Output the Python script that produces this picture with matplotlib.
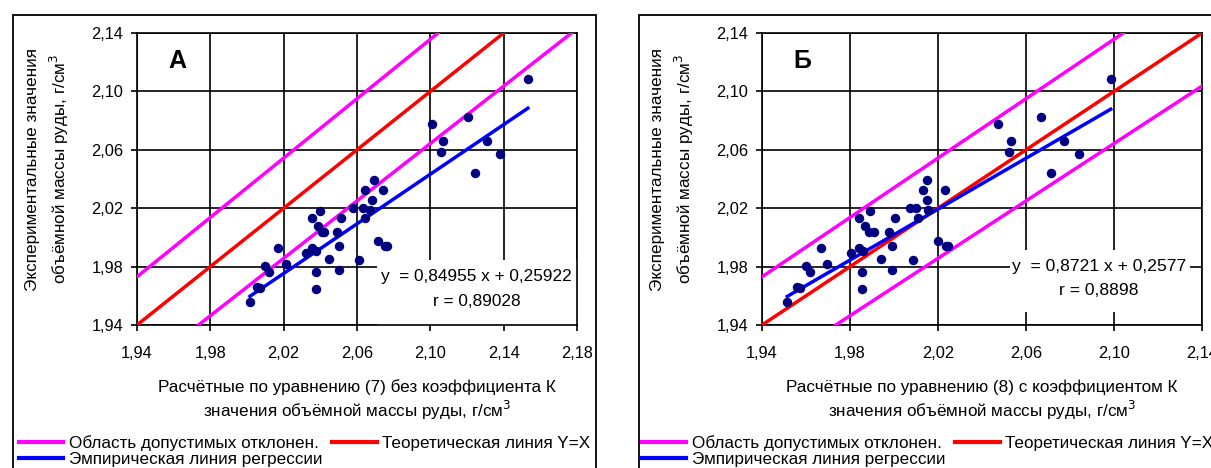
import numpy as np
import matplotlib
matplotlib.use('Agg')
import matplotlib.pyplot as plt
from matplotlib.lines import Line2D
from matplotlib.patches import Rectangle

plt.rcParams['font.family'] = ['Liberation Sans', 'DejaVu Sans']

# экспериментальные значения (общие для обеих панелей)
y_exp = [1.9557, 1.9660, 1.9651, 1.9804, 1.9763, 1.9930, 1.9816, 1.9894, 1.9928, 1.9905,
         2.0136, 2.0180, 2.0077, 2.0038, 2.0038, 1.9763, 1.9649, 1.9855, 1.9941, 2.0037,
         2.0136, 1.9777, 2.0200, 1.9842, 2.0200, 2.0136, 2.0323, 2.0393, 2.0258, 2.0323,
         1.9978, 1.9941, 1.9941, 2.0188, 2.1085, 2.0777, 2.0825, 2.0660, 2.0582, 2.0660,
         2.0568, 2.0440]
# расчёт по уравнению (7)
x_calc7 = [2.0016, 2.0053, 2.0071, 2.0098, 2.0118, 2.0171, 2.0213, 2.0323, 2.0355, 2.0377,
           2.0355, 2.0398, 2.0389, 2.0407, 2.0421, 2.0375, 2.0375, 2.0447, 2.0504, 2.0491,
           2.0513, 2.0504, 2.0578, 2.0611, 2.0630, 2.0643, 2.0641, 2.0692, 2.0681, 2.0742,
           2.0716, 2.0752, 2.0765, 2.0671, 2.1532, 2.1009, 2.1207, 2.1071, 2.1060, 2.1308,
           2.1378, 2.1245]
# расчёт по уравнению (8)
x_calc8 = [1.9515, 1.9561, 1.9571, 1.9602, 1.9620, 1.9670, 1.9695, 1.9806, 1.9841, 1.9859,
           1.9841, 1.9893, 1.9867, 1.9885, 1.9909, 1.9856, 1.9856, 1.9943, 1.9993, 1.9976,
           2.0003, 1.9993, 2.0071, 2.0088, 2.0101, 2.0110, 2.0132, 2.0150, 2.0150, 2.0234,
           2.0200, 2.0235, 2.0245, 2.0155, 2.0985, 2.0474, 2.0668, 2.0532, 2.0524, 2.0773,
           2.0839, 2.0712]

reg7 = (0.84955, 0.25922)
reg8 = (0.8721, 0.2577)
band = 0.017  # допустимое отклонение

y_ticks = [1.94, 1.98, 2.02, 2.06, 2.10, 2.14]
x_ticks7 = [1.94, 1.98, 2.02, 2.06, 2.10, 2.14, 2.18]
x_ticks8 = [1.94, 1.98, 2.02, 2.06, 2.10, 2.14]

W, H = 1211, 468
fig = plt.figure(figsize=(W / 100, H / 100), dpi=100)


def px(x0, y0, x1, y1):
    return [x0 / W, 1 - y1 / H, (x1 - x0) / W, (y1 - y0) / H]


def lab(v):
    return ('%.2f' % v).replace('.', ',')


def panel(rect, xs, reg, xt, letter, eq, rr, box, eqpos, eqsize, xlabel):
    ax = fig.add_axes(rect)
    ax.set_xlim(xt[0], xt[-1])
    ax.set_ylim(y_ticks[0], y_ticks[-1])
    ax.set_xticks(xt)
    ax.set_xticklabels([lab(v) for v in xt])
    ax.set_yticks(y_ticks)
    ax.set_yticklabels([lab(v) for v in y_ticks])
    ax.tick_params(direction='out', length=4, width=1.2, labelsize=11.8, colors='black')
    ax.tick_params(axis='x', pad=11)
    ax.tick_params(axis='y', pad=6)
    ax.set_axisbelow(True)
    ax.grid(True, color='black', linewidth=1.2)
    for s in ax.spines.values():
        s.set_linewidth(1.2)

    # белая подложка под уравнением
    ax.add_patch(Rectangle((box[0], box[1]), box[2] - box[0], box[3] - box[1],
                           transform=ax.transAxes, facecolor='white', edgecolor='none', zorder=1))

    xx = np.array([1.90, 2.20])
    ax.plot(xx, xx * (1 + band), color='#FF00FF', lw=2.5, zorder=3)
    ax.plot(xx, xx * (1 - band), color='#FF00FF', lw=2.5, zorder=3)
    ax.plot(xx, xx, color='#FF0000', lw=2.5, zorder=3)
    xr = np.array([min(xs), max(xs)])
    ax.plot(xr, reg[0] * xr + reg[1], color='#0000FF', lw=2.5, zorder=4)
    ax.plot(xs, y_exp, 'o', color='#000080', ms=5.8, zorder=5)

    ax.text(0.092, 0.905, letter, transform=ax.transAxes, fontsize=18, fontweight='bold',
            ha='center', va='center')
    ax.text(eqpos[0], eqpos[1], eq, transform=ax.transAxes, fontsize=eqsize, ha='center', va='center', zorder=6)
    ax.text(eqpos[0], eqpos[2], rr, transform=ax.transAxes, fontsize=eqsize, ha='center', va='center', zorder=6)

    ax.set_xlabel(xlabel, fontsize=12.3, linespacing=1.2, va='center')
    ax.xaxis.set_label_coords(0.5, -0.259)
    ax.set_ylabel('Экспериментальные значения\nобъёмной массы руды, г/см$^3$', fontsize=12.3,
                  linespacing=1.4, va='center')
    ax.yaxis.set_label_coords(-0.202, 0.534)
    return ax


ax1 = panel(px(137, 33, 577, 325), x_calc7, reg7, x_ticks7, 'А',
            'y  = 0,84955 x + 0,25922', 'r = 0,89028',
            (0.545, 0.0, 1.0, 0.223), (0.772, 0.165, 0.080), 12.4,
            'Расчётные по уравнению (7) без коэффициента К\nзначения объёмной массы руды, г/см$^3$')
ax2 = panel(px(762, 33, 1202, 325), x_calc8, reg8, x_ticks8, 'Б',
            'y  = 0,8721 x + 0,2577', 'r = 0,8898',
            (0.564, 0.045, 0.973, 0.257), (0.766, 0.200, 0.118), 12.6,
            'Расчётные по уравнению (8) с коэффициентом К\nзначения объёмной массы руды, г/см$^3$')

# рамки областей диаграмм
for x0, x1 in [(13, 596), (639, 1300)]:
    fig.add_artist(Rectangle((x0 / W, -0.2), (x1 - x0) / W, 1.2 - 15 / H,
                             transform=fig.transFigure, fill=False, edgecolor='black', lw=1.3))

handles = [Line2D([], [], color='#FF00FF', lw=3),
           Line2D([], [], color='#0000FF', lw=3),
           Line2D([], [], color='#FF0000', lw=3)]
names = ['Область допустимых отклонен.', 'Эмпирическая линия регрессии', 'Теоретическая линия Y=X']
for x0 in [19, 642]:
    fig.legend(handles, names, ncol=2, loc='upper left', bbox_to_anchor=(x0 / W, 1 - 435 / H),
               frameon=False, fontsize=12.3, handlelength=2.6, handletextpad=0.3,
               columnspacing=0.6, borderpad=0, borderaxespad=0, labelspacing=0.05)

fig.savefig('out.png', dpi=100)
